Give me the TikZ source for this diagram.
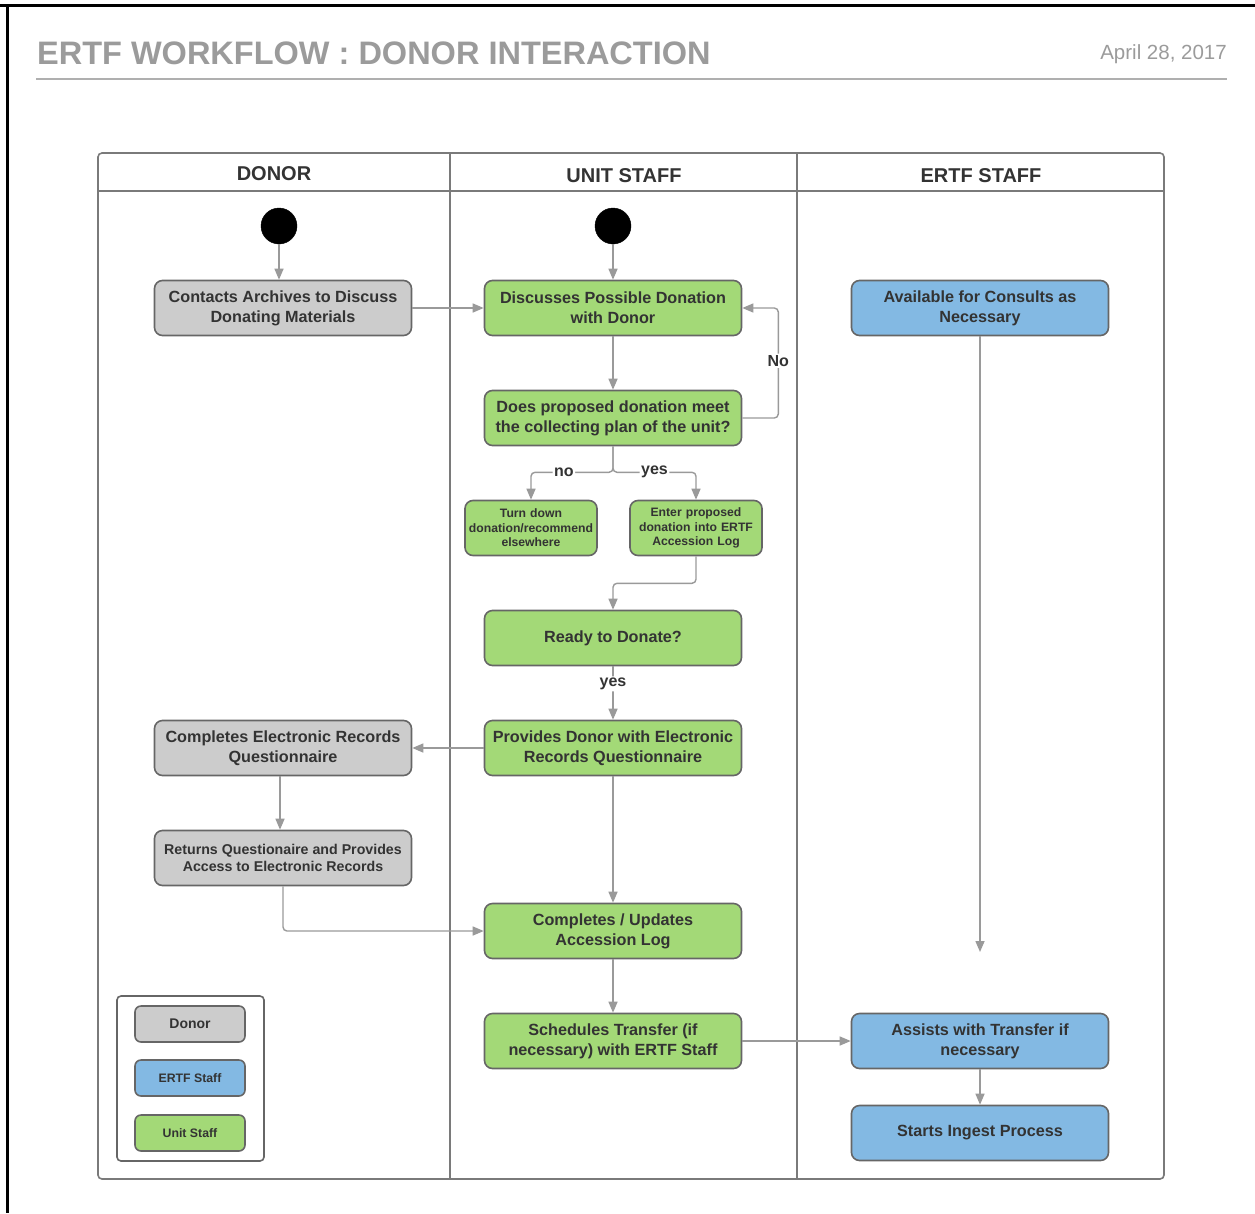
\documentclass[tikz,border=0pt]{standalone}
\usepackage{fontspec}
\setmainfont{Liberation Sans}
\usetikzlibrary{arrows.meta}

\definecolor{donorfill}{HTML}{CCCCCC}
\definecolor{unitfill}{HTML}{A3D977}
\definecolor{ertffill}{HTML}{83B9E3}
\definecolor{boxline}{HTML}{666666}
\definecolor{flowline}{HTML}{9A9A9A}
\definecolor{inktext}{HTML}{333333}
\definecolor{titlegray}{HTML}{9B9B9B}
\definecolor{lanegray}{HTML}{7A7A7A}

\tikzset{
  stepbox/.style={draw=boxline, line width=1.6pt, rounded corners=8pt,
    minimum width=257pt, minimum height=55pt, inner sep=2pt, align=center,
    text=inktext, font=\bfseries\fontsize{16.2}{19.8}\selectfont},
  smallbox/.style={stepbox, minimum width=128pt, text width=128pt,
    font=\bfseries\fontsize{12.2}{14.6}\selectfont},
  legendbox/.style={stepbox, minimum width=110pt, minimum height=36pt,
    rounded corners=6pt, font=\bfseries\fontsize{12.3}{14}\selectfont},
  donor/.style={fill=donorfill},
  unit/.style={fill=unitfill},
  ertf/.style={fill=ertffill},
  startdot/.style={circle, fill=black, draw=black, minimum size=36pt, inner sep=0pt},
  flow/.style={draw=flowline, line width=1.4pt, rounded corners=4pt,
    -{Triangle[length=11pt,width=9pt]}},
  lbl/.style={fill=white, inner sep=1.5pt, text=inktext,
    font=\bfseries\fontsize{16}{18}\selectfont},
  lanehead/.style={text=inktext, font=\bfseries\fontsize{20}{24}\selectfont},
}

\begin{document}
\begin{tikzpicture}[x=1pt,y=-1pt]
\useasboundingbox (0,0) rectangle (1255,1213);
\fill[white] (0,0) rectangle (1255,1213);

% outer frame edges
\draw[black, line width=3pt] (0,5) -- (1255,5);
\draw[black, line width=3pt] (7,5) -- (7,1213);

% title block
\node[anchor=west, text=titlegray, font=\bfseries\fontsize{32.5}{36}\selectfont, inner sep=0pt]
  (title) at (37,53) {ERTF WORKFLOW : DONOR INTERACTION};
\node[anchor=east, text=titlegray, font=\fontsize{20.5}{24}\selectfont, inner sep=0pt]
  (date) at (1227,54) {April 28, 2017};
\draw[titlegray!80, line width=2.2pt] (36,79) -- (1227,79);

% swimlanes
\draw[lanegray, line width=1.6pt, rounded corners=4pt] (98,153) rectangle (1164,1179);
\draw[lanegray, line width=1.6pt] (98,191) -- (1164,191);
\draw[lanegray, line width=1.6pt] (450,153) -- (450,1179);
\draw[lanegray, line width=1.6pt] (797,153) -- (797,1179);
\node[lanehead] (hdonor) at (274,174) {DONOR};
\node[lanehead] (hunit) at (624,176) {UNIT STAFF};
\node[lanehead] (hertf) at (981,176) {ERTF STAFF};

% start points
\node[startdot] (s1) at (279,226) {};
\node[startdot] (s2) at (613,226) {};

% donor lane
\node[stepbox, donor] (contacts) at (283,308) {Contacts Archives to Discuss\\Donating Materials};
\node[stepbox, donor] (complq) at (283,748) {Completes Electronic Records\\Questionnaire};
\node[stepbox, donor, font=\bfseries\fontsize{14.2}{17.5}\selectfont]
  (returns) at (283,858) {Returns Questionaire and Provides\\Access to Electronic Records};

% unit staff lane
\node[stepbox, unit] (discuss) at (613,308) {Discusses Possible Donation\\with Donor};
\node[stepbox, unit] (meets) at (613,418) {Does proposed donation meet\\the collecting plan of the unit?};
\node[smallbox, unit] (turndown) at (531,528) {Turn down\\donation/recommend\\elsewhere};
\node[smallbox, unit] (enterlog) at (696,528) {Enter proposed\\donation into ERTF\\Accession Log};
\node[stepbox, unit] (ready) at (613,638) {Ready to Donate?};
\node[stepbox, unit] (provides) at (613,748) {Provides Donor with Electronic\\Records Questionnaire};
\node[stepbox, unit] (updates) at (613,931) {Completes / Updates\\Accession Log};
\node[stepbox, unit] (schedules) at (613,1041) {Schedules Transfer (if\\necessary) with ERTF Staff};

% ERTF staff lane
\node[stepbox, ertf] (consults) at (980,308) {Available for Consults as\\Necessary};
\node[stepbox, ertf] (assists) at (980,1041) {Assists with Transfer if\\necessary};
\node[stepbox, ertf] (ingest) at (980,1133) {Starts Ingest Process};
\coordinate (consultsend) at (980,952);

% legend
\draw[boxline, line width=1.6pt, rounded corners=4pt, fill=white] (117,996) rectangle (264,1161);
\node[legendbox, donor, font=\bfseries\fontsize{14}{16}\selectfont] (kdonor) at (190,1024) {Donor};
\node[legendbox, ertf] (kertf) at (190,1078) {ERTF Staff};
\node[legendbox, unit] (kunit) at (190,1133) {Unit Staff};

% connectors
\draw[flow] (s1) -- (s1 |- contacts.north);
\draw[flow] (s2) -- (discuss);
\draw[flow] (contacts) -- (discuss);
\draw[flow] (discuss) -- (meets);
\draw[flow] (meets.east) -- ++(36,0) |- (discuss.east) node[pos=0.26, lbl] {No};
\draw[flow] (meets.south) -- ++(0,26) -| (turndown.north) node[pos=0.3, lbl] {no};
\draw[flow] (meets.south) -- ++(0,26) -| (enterlog.north) node[pos=0.25, lbl] {yes};
\draw[flow] (enterlog.south) -- ++(0,27) -| (ready.north);
\draw[flow] (ready) -- (provides) node[pos=0.33, lbl] {yes};
\draw[flow] (provides) -- (complq);
\draw[flow] ([xshift=-3pt]complq.south) -- ([xshift=-3pt]returns.north);
\draw[flow] (returns.south) |- (updates.west);
\draw[flow] (provides) -- (updates);
\draw[flow] (updates) -- (schedules);
\draw[flow] (schedules) -- (assists);
\draw[flow] (consults) -- (consultsend);
\draw[flow] (assists) -- (ingest);
\end{tikzpicture}
\end{document}
